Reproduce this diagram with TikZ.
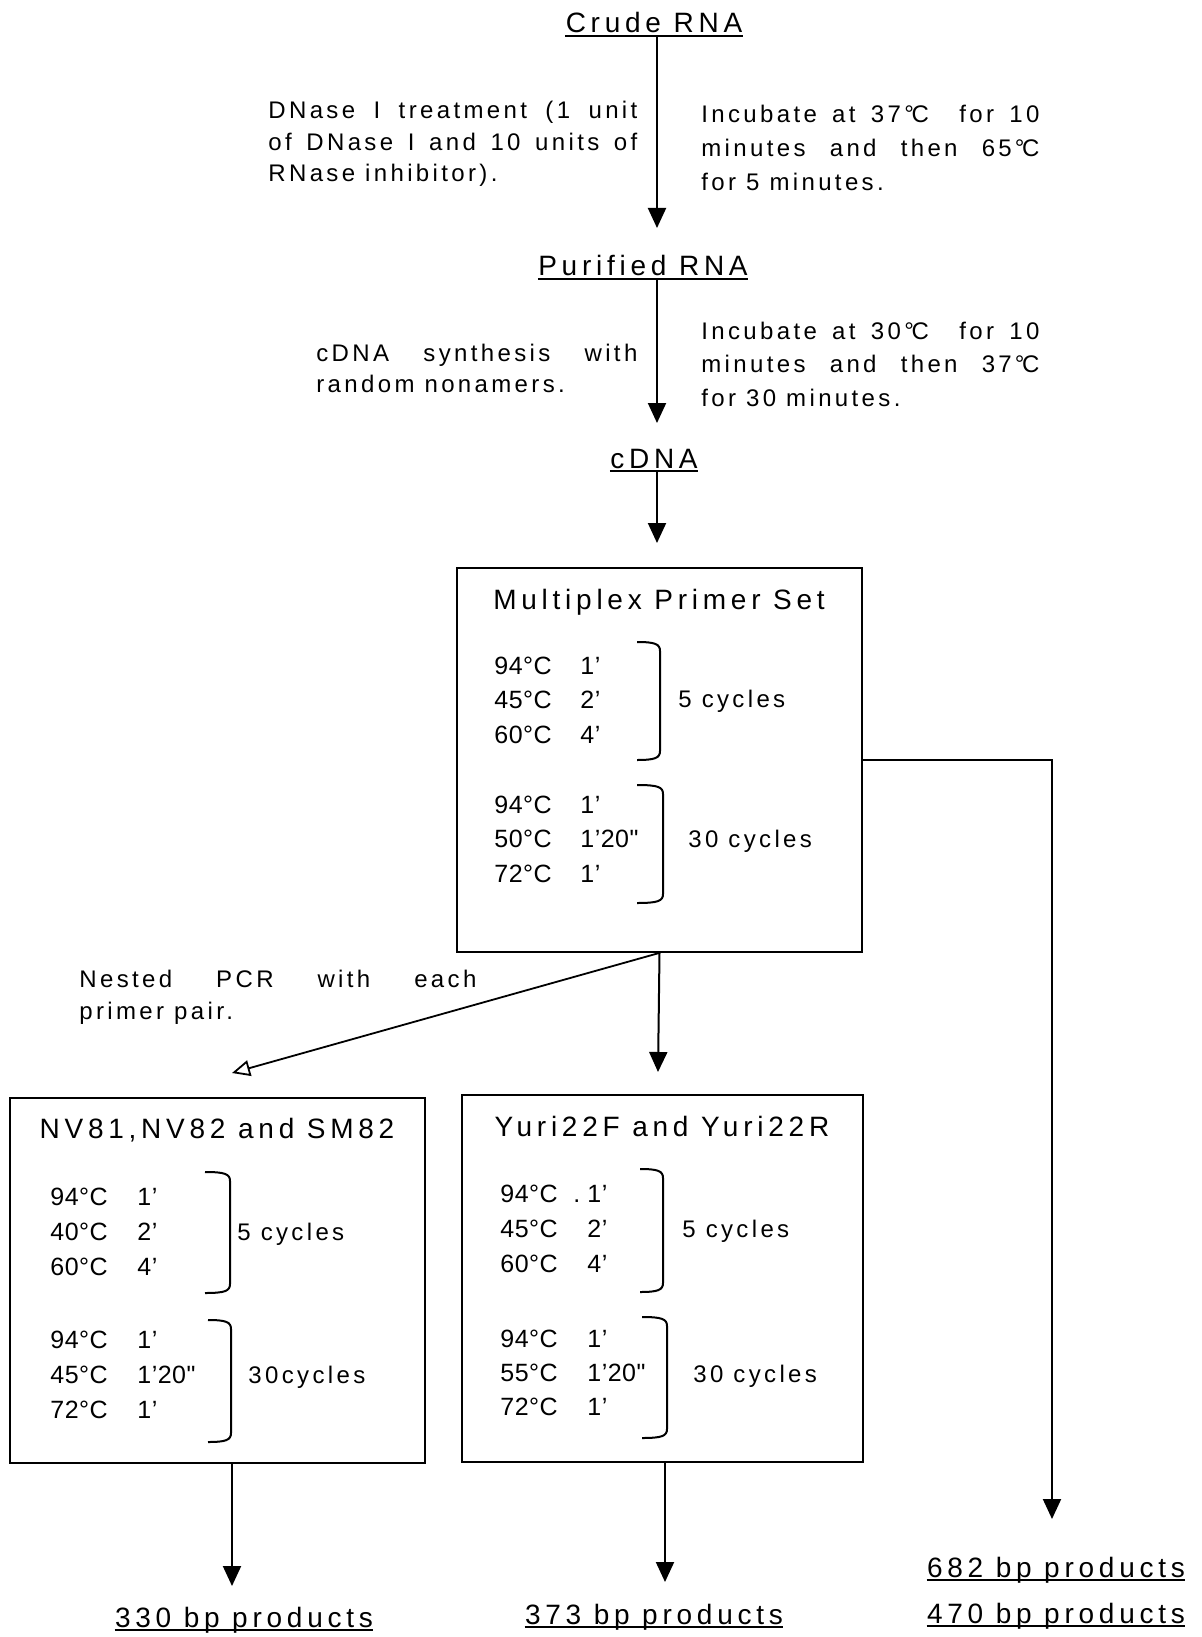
\documentclass[tikz,border=0pt]{standalone}
\usepackage{fontspec}
\setmainfont{Liberation Sans}
\newfontfamily\ttlfont[LetterSpace=17]{Liberation Sans}
\newfontfamily\bodyfont[LetterSpace=14]{Liberation Sans}
\newfontfamily\rowfont[LetterSpace=2]{Liberation Sans}
\usetikzlibrary{arrows.meta,calc}
\newcommand\jl[2]{\hbox to #1{#2}}
\newcommand\tblk[2]{\vtop{\baselineskip=#1\relax #2}}
\newcommand\dC{°\kern-1.2pt C}
\newcommand\pcrbrk[4]{\draw[brc] (#1,#2) .. controls (#3-5,#2) and (#3,#2+2) .. (#3,#2+9) -- (#3,#4-9) .. controls (#3,#4-2) and (#3-5,#4) .. (#1,#4);}
\newcommand\rowA[3]{\hbox{\hbox to #1{#2\hss}#3}}
\tikzset{
  ttl/.style={font=\ttlfont\fontsize{14}{17}\selectfont, inner sep=0pt, anchor=base},
  txt/.style={font=\bodyfont\fontsize{12}{17.4}\selectfont, inner sep=0pt, anchor=base west},
  rows/.style={font=\rowfont\fontsize{12.5}{17.4}\selectfont, inner sep=0pt, anchor=base west},
  pbox/.style={draw, line width=0.9pt, inner sep=0pt},
  arr/.style={line width=1pt, -{Triangle[width=9pt,length=10pt]}},
  oarr/.style={line width=0.9pt, -{Triangle[open,width=8pt,length=9pt]}},
  brc/.style={line width=1pt},
  uline/.style={line width=1pt},
}
\begin{document}
\begin{tikzpicture}[x=0.5pt,y=-0.5pt]
\useasboundingbox[fill=white] (0,0) rectangle (1201,1637);

% ---- top chain ----
\node[ttl] (cr) at (654,33) {Crude RNA};
\node[ttl] (pu) at (643,276) {Purified RNA};
\node[ttl] (cd) at (654,468) {cDNA};
\foreach \n in {cr,pu,cd}
  \draw[uline] ([yshift=-1.5pt]\n.base west) -- ([yshift=-1.5pt]\n.base east);

\coordinate (spine) at (657,0);
\coordinate (t1) at (657,228);
\coordinate (t2) at (657,423);
\coordinate (t3) at (657,543);
\draw[arr] ($(cr.base -| spine)+(0,3)$) -- (t1);
\draw[arr] ($(pu.base -| spine)+(0,3)$) -- (t2);
\draw[arr] ($(cd.base -| spine)+(0,3)$) -- (t3);

% ---- side notes ----
\node[txt] (dn) at (268,119) {\tblk{15.6pt}{%
  \jl{184.5pt}{DNase I treatment (1 unit}%
  \jl{184.5pt}{of DNase I and 10 units of}%
  \hbox{RNase inhibitor).}}};
\node[txt] (inc1) at (701,123) {\tblk{16.8pt}{%
  \jl{169pt}{Incubate at 37\dC\ \ for 10}%
  \jl{169pt}{minutes and then 65\kern1.5pt\dC}%
  \hbox{for 5 minutes.}}};
\node[txt] (cs) at (316,361) {\tblk{15.5pt}{%
  \jl{160.5pt}{cDNA synthesis with}%
  \hbox{random nonamers.}}};
\node[txt] (inc2) at (701,339) {\tblk{16.8pt}{%
  \jl{169pt}{Incubate at 30\dC\ \ for 10}%
  \jl{169pt}{minutes and then 37\kern1.5pt\dC}%
  \hbox{for 30 minutes.}}};

% ---- multiplex box ----
\node[pbox, minimum width=202.5pt, minimum height=192pt] (mp) at (659.5,760) {};
\node[ttl] (mpt) at (659,609) {Multiplex Primer Set};
\node[rows] (mpa) at (494,674) {\tblk{17.3pt}{%
  \rowA{43pt}{94°C}{1’}\rowA{43pt}{45°C}{2’}\rowA{43pt}{60°C}{4’}}};
\node[rows] (mpb) at (494,813) {\tblk{17.3pt}{%
  \rowA{43pt}{94°C}{1’}\rowA{43pt}{50°C}{1’20"}\rowA{43pt}{72°C}{1’}}};
\pcrbrk{637}{642}{660}{760}
\pcrbrk{637}{785}{663}{903}
\node[txt] (mpc1) at (678,707) {5 cycles};
\node[txt] (mpc2) at (688,847) {30 cycles};

% ---- nested note ----
\node[txt] (ne) at (79,987) {\tblk{16pt}{%
  \jl{198.5pt}{Nested PCR with each}%
  \hbox{primer pair.}}};

% ---- NV box ----
\node[pbox, minimum width=207.5pt, minimum height=182.5pt] (nv) at (217.5,1280.5) {};
\node[ttl] (nvt) at (217,1138) {NV81,NV82 and SM82};
\node[rows] (nva) at (50,1205) {\tblk{17.5pt}{%
  \rowA{43.5pt}{94°C}{1’}\rowA{43.5pt}{40°C}{2’}\rowA{43.5pt}{60°C}{4’}}};
\node[rows] (nvb) at (50,1348) {\tblk{17.5pt}{%
  \rowA{43.5pt}{94°C}{1’}\rowA{43.5pt}{45°C}{1’20"}\rowA{43.5pt}{72°C}{1’}}};
\pcrbrk{205}{1172}{230}{1293}
\pcrbrk{208}{1320}{231}{1442}
\node[txt] (nvc1) at (237,1240) {5 cycles};
\node[txt] (nvc2) at (248,1383) {30cycles};

% ---- Yuri box ----
\node[pbox, minimum width=200.5pt, minimum height=183.5pt] (yu) at (662.5,1278.5) {};
\node[ttl] (yut) at (662,1136) {Yuri22F and Yuri22R};
\node[rows] (yua) at (500,1202) {\tblk{17.5pt}{%
  \hbox{\hbox to 36.5pt{94°C\hss}\hbox to 7pt{.\hss}1’}%
  \rowA{43.5pt}{45°C}{2’}\rowA{43.5pt}{60°C}{4’}}};
\node[rows] (yub) at (500,1347) {\tblk{17.2pt}{%
  \rowA{43.5pt}{94°C}{1’}\rowA{43.5pt}{55°C}{1’20"}\rowA{43.5pt}{72°C}{1’}}};
\pcrbrk{640}{1169}{663}{1292}
\pcrbrk{642}{1317}{667}{1438}
\node[txt] (yuc1) at (682,1237) {5 cycles};
\node[txt] (yuc2) at (693,1382) {30 cycles};

% ---- products ----
\node[ttl] (p330) at (244,1627) {330 bp products};
\node[ttl] (p373) at (654,1624) {373 bp products};
\node[ttl] (p682) at (1056,1577) {682 bp products};
\node[ttl] (p470) at (1056,1623) {470 bp products};
\foreach \n in {p330,p373,p682,p470}
  \draw[uline] ([yshift=-1.5pt]\n.base west) -- ([yshift=-1.5pt]\n.base east);

% ---- connectors from multiplex ----
\coordinate (tmid) at (658,1072);
\coordinate (tdiag) at (232,1073);
\coordinate (corner) at (1052,760);
\coordinate (tright) at (1052,1519);
\draw[arr] (mp.south) -- (tmid);
\draw[oarr] (mp.south) -- (tdiag);
\draw[arr] (mp.east) -- (corner) -- (tright);

\coordinate (t330) at (232,1586);
\coordinate (t373) at (665,1582);
\draw[arr] (nv.south -| t330) -- (t330);
\draw[arr] (yu.south -| t373) -- (t373);
\end{tikzpicture}
\end{document}
